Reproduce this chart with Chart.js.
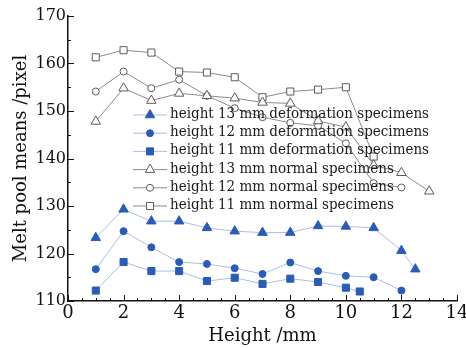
<!DOCTYPE html>
<html>
<head>
<meta charset="utf-8">
<script src="https://cdn.jsdelivr.net/npm/chart.js@4/dist/chart.umd.min.js"></script>
<style>
  body { margin: 0; background: #fff; }
</style>
</head>
<body>
<canvas id="myChart" width="466" height="348"></canvas>
<script>
// values
const defX13 = [1, 2, 3, 4, 5, 6, 7, 8, 9, 10, 11, 12, 12.5];
const def13 = [123.3, 129.3, 126.8, 126.8, 125.4, 124.7, 124.4, 124.4, 125.8, 125.7, 125.4, 120.6, 116.7];
const defX12 = [1, 2, 3, 4, 5, 6, 7, 8, 9, 10, 11, 12];
const def12 = [116.7, 124.7, 121.3, 118.2, 117.8, 116.9, 115.7, 118.1, 116.3, 115.3, 115.0, 112.2];
const defX11 = [1, 2, 3, 4, 5, 6, 7, 8, 9, 10, 10.5];
const def11 = [112.2, 118.2, 116.3, 116.3, 114.2, 114.9, 113.6, 114.7, 114.0, 112.8, 112.0];

const normX13 = [1, 2, 3, 4, 5, 6, 7, 8, 9, 10, 11, 12, 13];
const norm13 = [147.8, 154.8, 152.2, 153.7, 153.2, 152.7, 151.8, 151.6, 147.9, 146.6, 138.6, 137.0, 133.1];
const normX12 = [1, 2, 3, 4, 5, 6, 7, 8, 9, 10, 11, 12];
const norm12 = [154.1, 158.3, 154.8, 156.6, 153.2, 150.6, 148.7, 147.5, 146.9, 143.2, 134.8, 133.9];
const normX11 = [1, 2, 3, 4, 5, 6, 7, 8, 9, 10, 11];
const norm11 = [161.3, 162.8, 162.3, 158.3, 158.1, 157.1, 152.9, 154.1, 154.5, 155.0, 140.4];

const labels = [
  "height 13 mm deformation specimens",
  "height 12 mm deformation specimens",
  "height 11 mm deformation specimens",
  "height 13 mm normal specimens",
  "height 12 mm normal specimens",
  "height 11 mm normal specimens"
];

const xTicks = [0, 2, 4, 6, 8, 10, 12, 14];
const yTicks = [110, 120, 130, 140, 150, 160, 170];

const FONT = "'DejaVu Serif', serif";
const LEGEND_FONT = "'DejaVu Serif Condensed', 'DejaVu Serif', serif";
const blueDot = "#2b5cb3";
const blueLine = "#a9bde6";
const greyDot = "#5a5a5a";
const greyLine = "#8a8a8a";

const toPoints = (xs, ys) => xs.map((x, i) => ({ x: x, y: ys[i] }));

const makeSet = (label, xs, ys, style, radius, deformed) => ({
  label: label,
  data: toPoints(xs, ys),
  showLine: true,
  borderColor: deformed ? blueLine : greyLine,
  borderWidth: 1,
  pointStyle: style,
  pointRadius: radius,
  pointBackgroundColor: deformed ? blueDot : "#fff",
  pointBorderColor: deformed ? blueDot : greyDot,
  pointBorderWidth: 1,
  tension: 0,
  clip: false
});

const datasets = [
  makeSet(labels[0], defX13, def13, "triangle", 5.5, true),
  makeSet(labels[1], defX12, def12, "circle", 3.5, true),
  makeSet(labels[2], defX11, def11, "rect", 5, true),
  makeSet(labels[3], normX13, norm13, "triangle", 5.5, false),
  makeSet(labels[4], normX12, norm12, "circle", 3.5, false),
  makeSet(labels[5], normX11, norm11, "rect", 5, false)
];

// marker for the legend rows, same shapes as chart points
const drawMarker = (ctx, style, r, x, y) => {
  ctx.beginPath();
  if (style === "triangle") {
    ctx.moveTo(x, y - r);
    ctx.lineTo(x + r * Math.sin(2 * Math.PI / 3), y + r * 0.5);
    ctx.lineTo(x - r * Math.sin(2 * Math.PI / 3), y + r * 0.5);
    ctx.closePath();
  } else if (style === "circle") {
    ctx.arc(x, y, r, 0, Math.PI * 2);
  } else {
    const s = r * Math.SQRT1_2;
    ctx.rect(x - s, y - s, 2 * s, 2 * s);
  }
  ctx.fill();
  ctx.stroke();
};

const inwardTicks = {
  id: "inwardTicks",
  afterDraw(chart) {
    const ctx = chart.ctx;
    const xs = chart.scales.x;
    const ys = chart.scales.y;
    const area = chart.chartArea;
    ctx.save();
    ctx.strokeStyle = "#111";
    ctx.lineWidth = 1;
    for (let v = 0; v <= 14; v += 0.5) {
      const px = Math.round(xs.getPixelForValue(v)) + 0.5;
      const len = v % 2 === 0 ? 6 : 3;
      ctx.beginPath();
      ctx.moveTo(px, area.bottom);
      ctx.lineTo(px, area.bottom - len);
      ctx.stroke();
    }
    for (let v = 110; v <= 170; v += 5) {
      const py = Math.round(ys.getPixelForValue(v)) + 0.5;
      const len = v % 10 === 0 ? 6 : 3;
      ctx.beginPath();
      ctx.moveTo(area.left, py);
      ctx.lineTo(area.left + len, py);
      ctx.stroke();
    }
    ctx.restore();
  }
};

const innerLegend = {
  id: "innerLegend",
  afterDatasetsDraw(chart) {
    const ctx = chart.ctx;
    ctx.save();
    ctx.font = "15px " + LEGEND_FONT;
    ctx.textBaseline = "alphabetic";
    ctx.textAlign = "left";
    chart.data.datasets.forEach((ds, i) => {
      const base = 118 + i * 18.2;
      const my = base - 3;
      ctx.strokeStyle = ds.borderColor;
      ctx.lineWidth = 1;
      ctx.beginPath();
      ctx.moveTo(133, my);
      ctx.lineTo(167, my);
      ctx.stroke();
      ctx.fillStyle = ds.pointBackgroundColor;
      ctx.strokeStyle = ds.pointBorderColor;
      drawMarker(ctx, ds.pointStyle, ds.pointRadius, 150, my);
      ctx.fillStyle = "#1a1a1a";
      ctx.fillText(ds.label, 170, base);
    });
    ctx.restore();
  }
};

const ctx = document.getElementById("myChart").getContext("2d");
const myChart = new Chart(ctx, {
  type: "scatter",
  data: { datasets: datasets },
  options: {
    responsive: false,
    animation: false,
    layout: { padding: { top: 16, right: 9, left: 0, bottom: 0 } },
    plugins: {
      legend: { display: false },
      tooltip: { enabled: false }
    },
    scales: {
      x: {
        type: "linear",
        min: 0,
        max: 14,
        afterBuildTicks: (s) => { s.ticks = xTicks.map(v => ({ value: v })); },
        afterFit: (s) => { s.height = 47; s.paddingLeft = 0; s.paddingRight = 0; },
        grid: { display: false, drawTicks: false, tickLength: 0 },
        border: { display: true, color: "#111", width: 1.5 },
        ticks: { color: "#111", font: { family: FONT, size: 18 }, padding: 2, maxRotation: 0 },
        title: { display: true, text: "Height /mm", color: "#111", font: { family: FONT, size: 18 }, padding: { top: 0, bottom: 1 } }
      },
      y: {
        type: "linear",
        min: 110,
        max: 170,
        afterBuildTicks: (s) => { s.ticks = yTicks.map(v => ({ value: v })); },
        afterFit: (s) => { s.width = 68; s.paddingTop = 0; s.paddingBottom = 0; },
        grid: { display: false, drawTicks: false, tickLength: 0 },
        border: { display: true, color: "#111", width: 1.5 },
        ticks: { color: "#111", font: { family: FONT, size: 16 }, padding: 2 },
        title: { display: true, text: "Melt pool means /pixel", color: "#111", font: { family: FONT, size: 18 }, padding: { top: 11, bottom: 0 } }
      }
    }
  },
  plugins: [inwardTicks, innerLegend]
});
</script>
</body>
</html>
